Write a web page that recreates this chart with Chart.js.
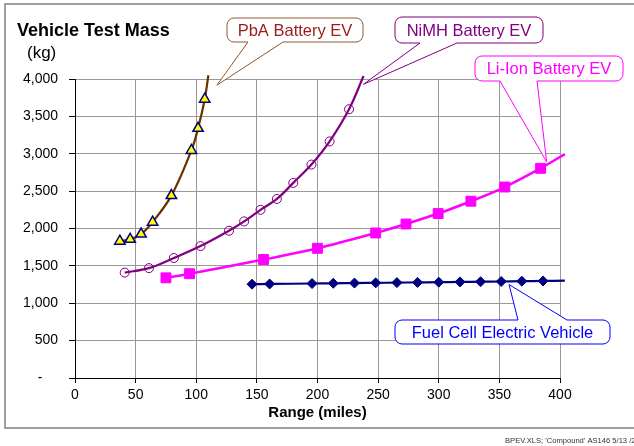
<!DOCTYPE html>
<html>
<head>
<meta charset="utf-8">
<script src="https://cdn.jsdelivr.net/npm/chart.js@4/dist/chart.umd.min.js"></script>
<style>
  html, body { margin: 0; padding: 0; background: #fff; }
  canvas { display: block; }
</style>
</head>
<body>
<canvas id="mass-chart" width="634" height="446"></canvas>
<script>
// values; last entry of each series = where the curve stops (no marker)
const pbaRange  = [37, 45.5, 54.5, 64, 79.5, 96, 101.5, 107, 110];
const pbaMass   = [1830, 1855, 1925, 2085, 2440, 3045, 3340, 3730, 4050];
const nimhRange = [41, 61, 81.5, 103.5, 127, 139.5, 153, 166.5, 180, 195, 210, 226, 238];
const nimhMass  = [1410, 1470, 1605, 1765, 1970, 2095, 2250, 2395, 2610, 2855, 3165, 3595, 4040];
const liRange   = [75, 94.5, 155.5, 200, 248, 273, 299.5, 326.5, 354.5, 384, 404];
const liMass    = [1340, 1395, 1585, 1735, 1940, 2060, 2200, 2365, 2555, 2805, 2995];
const fcRange   = [146, 160.5, 195.5, 213, 230.5, 248, 265.5, 282.5, 300, 317.5, 334.5, 351.5, 368.5, 386, 404];
const fcMass    = [1255, 1258, 1264, 1267, 1270, 1273, 1276, 1279, 1282, 1285, 1288, 1291, 1295, 1298, 1302];

const xTicks = [0, 50, 100, 150, 200, 250, 300, 350, 400];
const yTicks = [0, 500, 1000, 1500, 2000, 2500, 3000, 3500, 4000];

const FONT = '"Liberation Sans", Arial, sans-serif';

function pts(xs, ys) {
  return xs.map((x, i) => ({ x: x, y: ys[i] }));
}
function radius(n, r) {
  return ctx => ctx.dataIndex === n - 1 ? 0 : r;
}

// callout labels: box in pixels, tip anchored on data values
const callouts = [
  { text: 'PbA Battery EV', box: [227, 18, 363, 42], base: [248, 283], side: 'bottom', tip: [117, 3917], line: '#8B5A2B', color: '#9B1B1B' },
  { text: 'NiMH Battery EV', box: [395, 17, 543, 43], base: [420, 457], side: 'bottom', tip: [238, 3930], line: '#800080', color: '#800080' },
  { text: 'Li-Ion Battery EV', box: [475, 56, 623, 81], base: [500, 537], side: 'bottom', tip: [389, 2891], line: '#FF00FF', color: '#FF00FF' },
  { text: 'Fuel Cell Electric Vehicle', box: [395, 320, 610, 344], base: [518, 567], side: 'top', tip: [358, 1250], line: '#0000FF', color: '#0000FF' }
];

function drawCallout(ctx, c, tx, ty) {
  const [x1, y1, x2, y2] = c.box;
  const r = 7;
  ctx.beginPath();
  ctx.moveTo(x1 + r, y1);
  if (c.side === 'top') {
    ctx.lineTo(c.base[0], y1);
    ctx.lineTo(tx, ty);
    ctx.lineTo(c.base[1], y1);
  }
  ctx.lineTo(x2 - r, y1);
  ctx.arcTo(x2, y1, x2, y1 + r, r);
  ctx.lineTo(x2, y2 - r);
  ctx.arcTo(x2, y2, x2 - r, y2, r);
  if (c.side === 'bottom') {
    ctx.lineTo(c.base[1], y2);
    ctx.lineTo(tx, ty);
    ctx.lineTo(c.base[0], y2);
  }
  ctx.lineTo(x1 + r, y2);
  ctx.arcTo(x1, y2, x1, y2 - r, r);
  ctx.lineTo(x1, y1 + r);
  ctx.arcTo(x1, y1, x1 + r, y1, r);
  ctx.closePath();
  ctx.fillStyle = '#fff';
  ctx.fill();
  ctx.strokeStyle = c.line;
  ctx.lineWidth = 1;
  ctx.stroke();
  ctx.fillStyle = c.color;
  ctx.font = '16.5px ' + FONT;
  ctx.textAlign = 'center';
  ctx.textBaseline = 'middle';
  ctx.fillText(c.text, (x1 + x2) / 2, (y1 + y2) / 2 + 1);
}

const decor = {
  id: 'decor',
  beforeDraw(chart) {
    const ctx = chart.ctx;
    ctx.save();
    ctx.fillStyle = '#fff';
    ctx.fillRect(0, 0, chart.width, chart.height);
    ctx.strokeStyle = '#a0a0a0';
    ctx.lineWidth = 2;
    ctx.strokeRect(5, 4, 640, 424);
    ctx.fillStyle = '#000';
    ctx.textAlign = 'left';
    ctx.textBaseline = 'alphabetic';
    ctx.font = 'bold 18px ' + FONT;
    ctx.fillText('Vehicle Test Mass', 17, 36);
    ctx.font = '17px ' + FONT;
    ctx.fillText('(kg)', 27, 58);
    ctx.font = '7.6px ' + FONT;
    ctx.fillStyle = '#333';
    ctx.fillText("BPEV.XLS; 'Compound' AS146 5/13 /20", 505, 443);
    ctx.restore();
  },
  afterDraw(chart) {
    const ctx = chart.ctx;
    const xs = chart.scales.x, ys = chart.scales.y;
    ctx.save();
    callouts.forEach(c => {
      drawCallout(ctx, c, xs.getPixelForValue(c.tip[0]), ys.getPixelForValue(c.tip[1]));
    });
    ctx.restore();
  }
};

new Chart(document.getElementById('mass-chart'), {
  type: 'line',
  data: {
    datasets: [
      {
        label: 'PbA Battery EV',
        data: pts(pbaRange, pbaMass),
        borderColor: '#663300',
        borderWidth: 2.2,
        tension: 0.35,
        pointStyle: 'triangle',
        pointRadius: radius(pbaRange.length, 6),
        pointBackgroundColor: '#FFFF00',
        pointBorderColor: '#000080',
        pointBorderWidth: 1.5,
        clip: false
      },
      {
        label: 'NiMH Battery EV',
        data: pts(nimhRange, nimhMass),
        borderColor: '#800080',
        borderWidth: 2.2,
        tension: 0.35,
        pointStyle: 'circle',
        pointRadius: radius(nimhRange.length, 4.5),
        pointBackgroundColor: 'rgba(0,0,0,0)',
        pointBorderColor: '#800080',
        pointBorderWidth: 1,
        clip: false
      },
      {
        label: 'Li-Ion Battery EV',
        data: pts(liRange, liMass),
        borderColor: '#FF00FF',
        borderWidth: 2.5,
        tension: 0.35,
        pointStyle: 'rect',
        pointRadius: radius(liRange.length, 7),
        pointBackgroundColor: '#FF00FF',
        pointBorderColor: '#FF00FF',
        pointBorderWidth: 1,
        clip: false
      },
      {
        label: 'Fuel Cell Electric Vehicle',
        data: pts(fcRange, fcMass),
        borderColor: '#000080',
        borderWidth: 2.2,
        tension: 0.35,
        pointStyle: 'rectRot',
        pointRadius: radius(fcRange.length, 5),
        pointBackgroundColor: '#000080',
        pointBorderColor: '#000080',
        pointBorderWidth: 1,
        clip: false
      }
    ]
  },
  options: {
    responsive: false,
    animation: false,
    layout: { padding: { top: 79, right: 74, bottom: 0, left: 0 } },
    scales: {
      x: {
        type: 'linear',
        min: xTicks[0],
        max: xTicks[xTicks.length - 1],
        afterBuildTicks: s => { s.ticks = xTicks.map(v => ({ value: v })); },
        afterFit: s => { s.height = 68; },
        grid: { color: '#999', tickColor: '#000', tickLength: 5 },
        border: { color: '#000', width: 1 },
        ticks: { color: '#000', padding: 4, maxRotation: 0, font: { family: FONT, size: 14 } },
        title: {
          display: true,
          text: 'Range (miles)',
          color: '#000',
          font: { family: FONT, size: 15, weight: 'bold' },
          padding: { top: 0, bottom: 24 }
        }
      },
      y: {
        type: 'linear',
        min: yTicks[0],
        max: yTicks[yTicks.length - 1],
        afterBuildTicks: s => { s.ticks = yTicks.map(v => ({ value: v })); },
        afterFit: s => { s.width = 75; },
        grid: { color: '#999', tickColor: '#000', tickLength: 6 },
        border: { color: '#000', width: 1 },
        ticks: {
          color: '#000',
          padding: 11,
          font: { family: FONT, size: 14 },
          callback: v => v === 0 ? '-\u00a0\u00a0\u00a0\u00a0' : v.toLocaleString('en-US')
        }
      }
    },
    plugins: {
      legend: { display: false },
      title: { display: false },
      tooltip: { enabled: false }
    }
  },
  plugins: [decor]
});
</script>
</body>
</html>
